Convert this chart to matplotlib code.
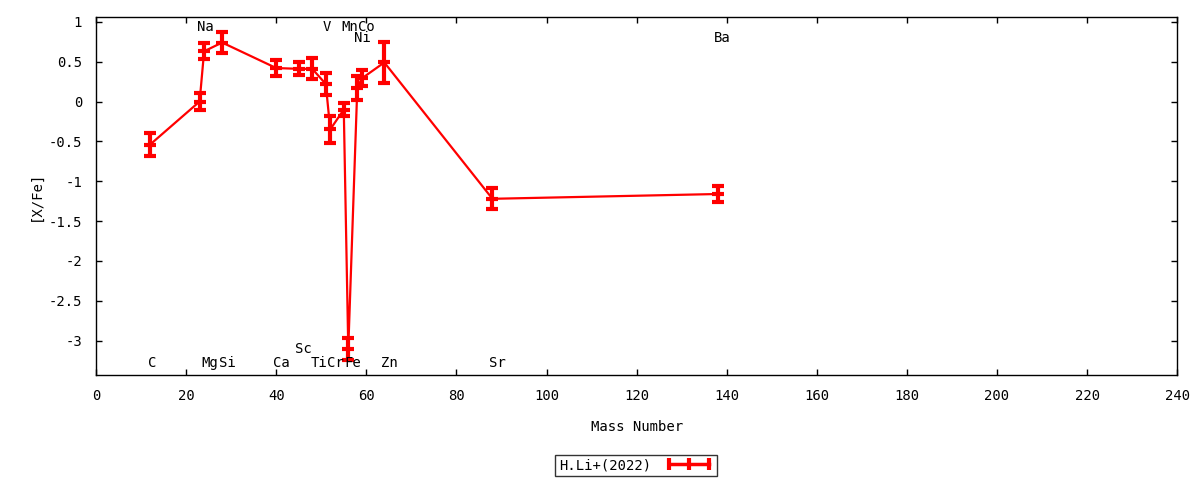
import numpy as np
import matplotlib
matplotlib.use("Agg")
import matplotlib.pyplot as plt
from matplotlib.lines import Line2D
from matplotlib.ticker import FuncFormatter, MultipleLocator

plt.rcParams['font.family'] = ['DejaVu Sans Mono']
plt.rcParams['axes.unicode_minus'] = False

# data (mass number, [X/Fe], error)
elements = ['C', 'Na', 'Mg', 'Si', 'Ca', 'Sc', 'Ti', 'V', 'Cr', 'Mn', 'Fe', 'Ni', 'Co', 'Zn', 'Sr', 'Ba']
mass = [12, 23, 24, 28, 40, 45, 48, 51, 52, 55, 56, 58, 59, 64, 88, 138]
xfe = [-0.54, 0.00, 0.63, 0.74, 0.42, 0.41, 0.41, 0.22, -0.35, -0.10, -3.10, 0.17, 0.29, 0.49, -1.22, -1.16]
err = [0.14, 0.11, 0.10, 0.13, 0.10, 0.08, 0.13, 0.14, 0.17, 0.08, 0.14, 0.15, 0.10, 0.26, 0.13, 0.10]

# element label positions
label_x = [12.4, 24.2, 25.3, 29.1, 41.2, 46.0, 49.5, 51.2, 53.2, 56.4, 57.1, 59.1, 60.1, 65.1, 89.0, 139.1]
label_y = [-3.28, 0.93, -3.28, -3.28, -3.28, -3.11, -3.28, 0.93, -3.28, 0.93, -3.28, 0.80, 0.93, -3.28, -3.28, 0.80]

series_name = 'H.Li+(2022)'
fs = 10

fig = plt.figure(figsize=(12, 4.8), dpi=100)
ax = fig.add_axes([0.08, 0.21875, 0.901, 0.7458])

ax.plot(mass, xfe, color='red', lw=1.6, zorder=2)
ax.errorbar(mass, xfe, yerr=err, fmt='none', ecolor='red', elinewidth=3,
            capsize=4.5, capthick=3, zorder=3)
ax.plot(mass, xfe, ls='none', marker='_', ms=9, mew=3, color='red', zorder=3)

for name, lx, ly in zip(elements, label_x, label_y):
    ax.text(lx, ly, name, ha='center', va='center', fontsize=fs)

ax.set_xlim(0, 240)
ax.set_ylim(-3.43, 1.06)
ax.xaxis.set_major_locator(MultipleLocator(20))
ax.yaxis.set_major_locator(MultipleLocator(0.5))
ax.yaxis.set_major_formatter(FuncFormatter(lambda v, p: '%g' % v))
ax.tick_params(direction='in', length=4, width=1, top=True, right=True,
               labelsize=fs, pad=10)
for s in ax.spines.values():
    s.set_linewidth(1)

ax.set_xlabel('Mass Number', fontsize=fs, labelpad=12)
ax.set_ylabel('[X/Fe]', fontsize=fs, labelpad=4)

proxy = Line2D([0], [0], color='red', lw=2.5, marker='|', ms=9, mew=3)
leg = fig.legend([proxy], [series_name], loc='center', bbox_to_anchor=(0.53, 0.031),
                 numpoints=3, markerfirst=False, handlelength=3.5, fontsize=fs,
                 frameon=True, fancybox=False, borderpad=0.25, handletextpad=1.0)
leg.get_frame().set_edgecolor('black')
leg.get_frame().set_linewidth(1)

fig.savefig('out.png', dpi=100)
